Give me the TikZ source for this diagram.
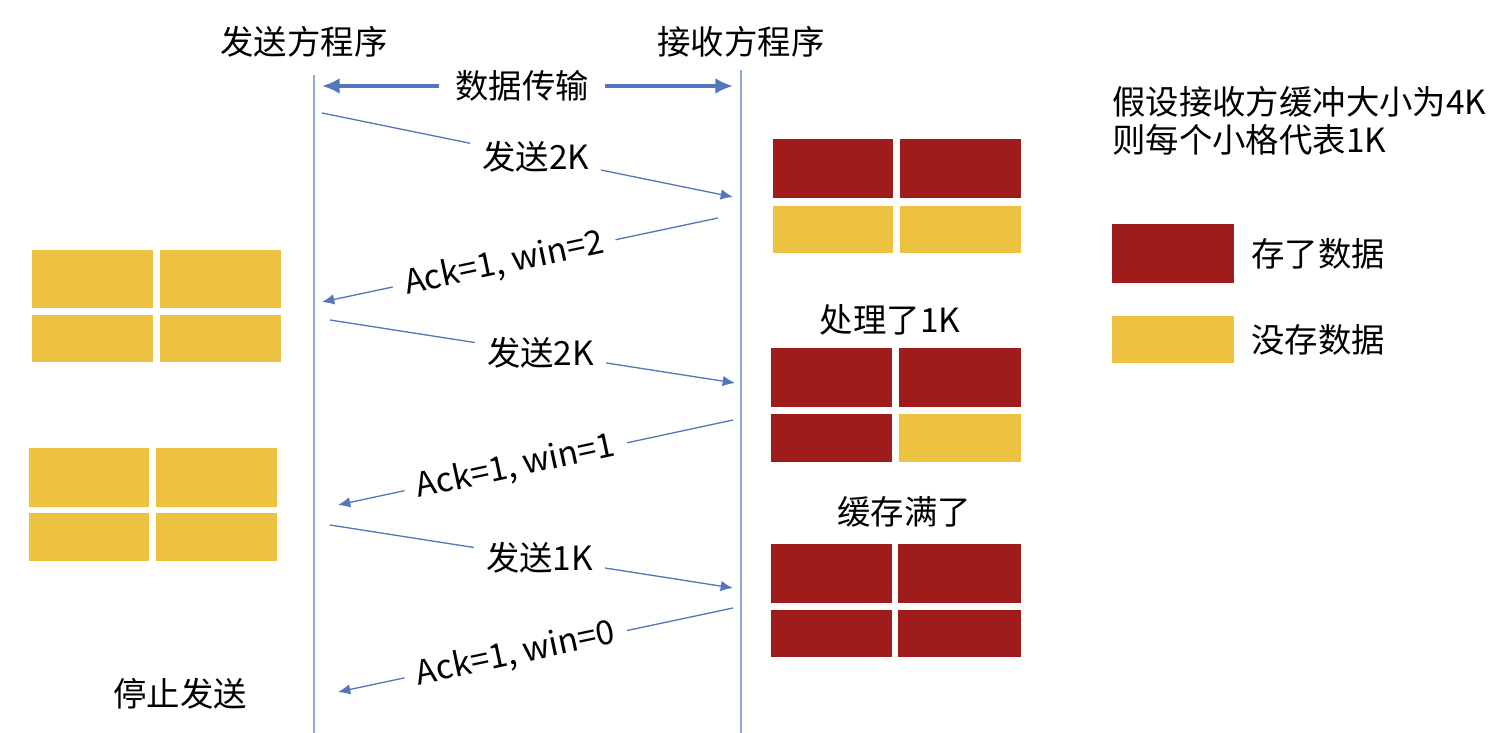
\documentclass[tikz,border=0pt]{standalone}
\usepackage{fontspec}
\setmainfont{Noto Sans CJK SC}
\usetikzlibrary{arrows.meta,positioning}
\definecolor{bufred}{RGB}{160,27,27}
\definecolor{bufyellow}{RGB}{236,194,64}
\definecolor{lifeblue}{RGB}{143,168,214}
\definecolor{msgblue}{RGB}{84,118,186}

\begin{document}
\begin{tikzpicture}[x=0.02cm,y=-0.02cm,
    font=\fontsize{19}{23}\selectfont,
    usedcell/.style={fill=bufred},
    freecell/.style={fill=bufyellow},
    lifeline/.style={lifeblue,line width=0.8pt},
    msg/.style={msgblue,line width=0.75pt,-{Latex[length=7pt,width=6pt]}},
    bigmsg/.style={msgblue,line width=2.2pt,-{Latex[length=10pt,width=9pt]}},
    lbl/.style={fill=white,text=black,inner xsep=7pt,inner ysep=2pt}]
        \useasboundingbox (0,0) rectangle (1512,733);
        % headers and lifelines
        \node (sender) at (304,42) {发送方程序};
        \node (receiver) at (741,42) {接收方程序};
        \coordinate (s0) at (314,75);
        \coordinate (s1) at (314,733);
        \coordinate (r0) at (741,70);
        \coordinate (r1) at (741,733);
        \draw[lifeline] (s0) -- (s1);
        \draw[lifeline] (r0) -- (r1);
        \node[inner xsep=9pt] (xfer) at (522,86) {数据传输};
        \coordinate (xl) at (322,86);
        \coordinate (xr) at (733,86);
        \draw[bigmsg] (xfer) -- (xl);
        \draw[bigmsg] (xfer) -- (xr);
        % messages
        \coordinate (m1a) at (322,113);
        \coordinate (m1b) at (733,197);
        \coordinate (m2a) at (718,218);
        \coordinate (m2b) at (322,302);
        \coordinate (m3a) at (330,320);
        \coordinate (m3b) at (735,383);
        \coordinate (m4a) at (733,420);
        \coordinate (m4b) at (338,505);
        \coordinate (m5a) at (330,525);
        \coordinate (m5b) at (733,588);
        \coordinate (m6a) at (733,608);
        \coordinate (m6b) at (338,692);
        \draw[msg] (m1a) -- node[lbl,pos=0.52] (send1) {发送2K} (m1b);
        \draw[msg] (m2a) -- node[lbl,sloped,pos=0.54] (ack1) {Ack=1, win=2} (m2b);
        \draw[msg] (m3a) -- node[lbl,pos=0.52] (send2) {发送2K} (m3b);
        \draw[msg] (m4a) -- node[lbl,sloped,pos=0.55] (ack2) {Ack=1, win=1} (m4b);
        \draw[msg] (m5a) -- node[lbl,pos=0.52] (send3) {发送1K} (m5b);
        \draw[msg] (m6a) -- node[lbl,sloped,pos=0.55] (ack3) {Ack=1, win=0} (m6b);
        % sender side windows
        \fill[freecell] (32,250) rectangle (153,308);
        \fill[freecell] (160,250) rectangle (281,308);
        \fill[freecell] (32,315) rectangle (153,362);
        \fill[freecell] (160,315) rectangle (281,362);
        \fill[freecell] (29,448) rectangle (149,507);
        \fill[freecell] (156,448) rectangle (277,507);
        \fill[freecell] (29,513) rectangle (149,561);
        \fill[freecell] (156,513) rectangle (277,561);
        \node (stop) at (180,694) {停止发送};
        % receiver buffers
        \fill[usedcell] (773,139) rectangle (893,198);
        \fill[usedcell] (900,139) rectangle (1021,198);
        \fill[freecell] (773,206) rectangle (893,253);
        \fill[freecell] (900,206) rectangle (1021,253);
        \node (proc) at (890,320) {处理了1K};
        \fill[usedcell] (771,348) rectangle (892,407);
        \fill[usedcell] (899,348) rectangle (1021,407);
        \fill[usedcell] (771,414) rectangle (892,462);
        \fill[freecell] (899,414) rectangle (1021,462);
        \node (full) at (904,512) {缓存满了};
        \fill[usedcell] (771,544) rectangle (892,603);
        \fill[usedcell] (898,544) rectangle (1021,603);
        \fill[usedcell] (771,610) rectangle (892,657);
        \fill[usedcell] (898,610) rectangle (1021,657);
        % notes and legend
        \node[anchor=west,inner sep=0pt] (note1) at (1112,102) {假设接收方缓冲大小为4K};
        \node[anchor=west,inner sep=0pt] (note2) at (1112,140) {则每个小格代表1K};
        \node[usedcell,minimum width=2.44cm,minimum height=1.18cm,inner sep=0pt] (legused) at (1173,253.5) {};
        \node[freecell,minimum width=2.44cm,minimum height=0.94cm,inner sep=0pt] (legfree) at (1173,339.5) {};
        \node[right=0.22cm of legused] (legusedtxt) {存了数据};
        \node[right=0.22cm of legfree] (legfreetxt) {没存数据};
    \end{tikzpicture}
\end{document}
